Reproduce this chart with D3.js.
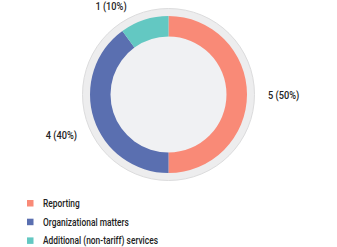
<!doctype html>
<html>
<head>
  <style>
    body { margin:0; background:#fff; font-family:"Roboto", sans-serif; }
  </style>
  <script src="https://d3js.org/d3.v7.min.js"></script>
</head>
<body>
  <script>
    var categories = ["Reporting", "Organizational matters", "Additional (non-tariff) services"];
    var values = [5, 4, 1];
    var labels = ["5 (50%)", "4 (40%)", "1 (10%)"];
    var colors = ["#f98a77", "#5a6fb0", "#63c8c2"];

    var svg = d3.select("body").append("svg")
      .attr("width", 337).attr("height", 247);

    var cx = 168.5, cy = 94.5;
    var g = svg.append("g").attr("transform", "translate(" + cx + "," + cy + ")");

    // backdrop disc
    g.append("circle").attr("r", 86).attr("fill", "#ededee")
      .attr("stroke", "#dcdcdd").attr("stroke-width", 1);
    g.append("circle").attr("r", 58).attr("fill", "#f0f1f3");

    var pie = d3.pie().sort(null).value(function(d) { return d; });
    var arc = d3.arc().innerRadius(58).outerRadius(78.5);
    var arcs = pie(values);

    g.selectAll("path").data(arcs).enter().append("path")
      .attr("d", arc)
      .attr("fill", function(d, i) { return colors[i]; });

    // value labels (condensed look)
    var labelPos = [[99.5, 4], [-91.5, 44.5], [-57.5, -85]];
    var anchors = ["start", "end", "middle"];
    g.selectAll("text.val").data(arcs).enter().append("text")
      .attr("class", "val")
      .attr("transform", function(d, i) {
        return "translate(" + labelPos[i][0] + "," + labelPos[i][1] + ") scale(0.88,1)";
      })
      .attr("text-anchor", function(d, i) { return anchors[i]; })
      .attr("font-size", 10.5)
      .attr("font-weight", 500)
      .attr("fill", "#222")
      .text(function(d, i) { return labels[i]; });

    // legend
    var legend = svg.append("g").attr("transform", "translate(27,200)");
    var row = legend.selectAll("g").data(categories).enter().append("g")
      .attr("transform", function(d, i) { return "translate(0," + (i * 18.7) + ")"; });
    row.append("rect").attr("width", 6.5).attr("height", 6.5)
      .attr("fill", function(d, i) { return colors[i]; });
    row.append("text")
      .attr("transform", "translate(16,7) scale(0.8,1)")
      .attr("font-size", 10.5).attr("font-weight", 500).attr("fill", "#222")
      .text(function(d) { return d; });
  </script>
</body>
</html>
